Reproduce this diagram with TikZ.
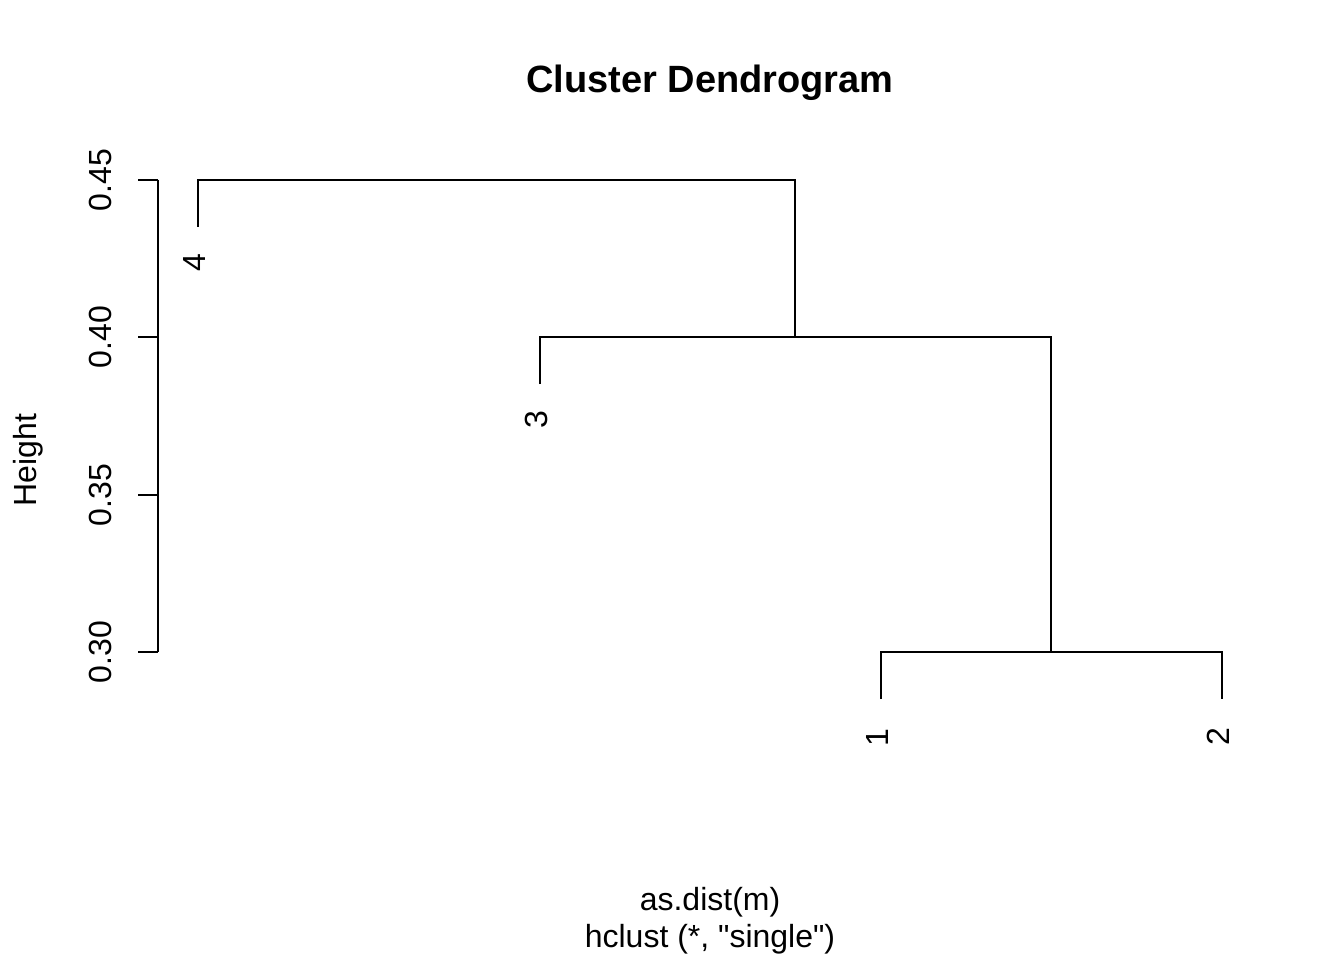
\documentclass[tikz,border=0pt]{standalone}
\usepackage{fontspec}
\setmainfont{Liberation Sans}
\usepackage{tikz}
\tikzset{
  lbl/.style={inner sep=0pt,font=\fontsize{32}{38}\selectfont},
  ttl/.style={inner sep=0pt,font=\fontsize{38}{44}\selectfont\bfseries},
  tree/.style={line width=2pt}
}

\begin{document}
\begin{tikzpicture}[x=1pt,y=-1pt]
        \useasboundingbox (0,0) rectangle (1344,960);
        % axis
        \draw[tree] (158,180) -- (158,652);
        \foreach \y/\v in {180/0.45,337/0.40,495/0.35,652/0.30} {
            \draw[tree] (138,\y) -- (158,\y);
            \node[lbl,rotate=90,anchor=south] (t\v) at (112,\y) {\v};
        }
        \node[lbl,rotate=90,anchor=base] (ylab) at (36,460) {Height};
        % merges and leaves
        \coordinate (l4) at (198,227);
        \coordinate (l3) at (540,384);
        \coordinate (l1) at (881,699);
        \coordinate (l2) at (1222,699);
        \coordinate (m12) at (1051,652);
        \coordinate (m123) at (795,337);
        \draw[tree] (l1) |- (m12) -| (l2);
        \draw[tree] (l3) |- (m123) -| (m12);
        \draw[tree] (l4) |- (795,180) -- (m123);
        \node[lbl,rotate=90,anchor=east] (n4) at (194,254) {4};
        \node[lbl,rotate=90,anchor=east] (n3) at (536,411) {3};
        \node[lbl,rotate=90,anchor=east] (n1) at (877,728) {1};
        \node[lbl,rotate=90,anchor=east] (n2) at (1218,727) {2};
        % titles
        \node[ttl,anchor=base] (title) at (710,93) {Cluster Dendrogram};
        \node[lbl,anchor=base] (xlab) at (710,910) {as.dist(m)};
        \node[lbl,anchor=base] (sub) at (710,947) {hclust (*, \textquotedbl single\textquotedbl)};
    \end{tikzpicture}
\end{document}
